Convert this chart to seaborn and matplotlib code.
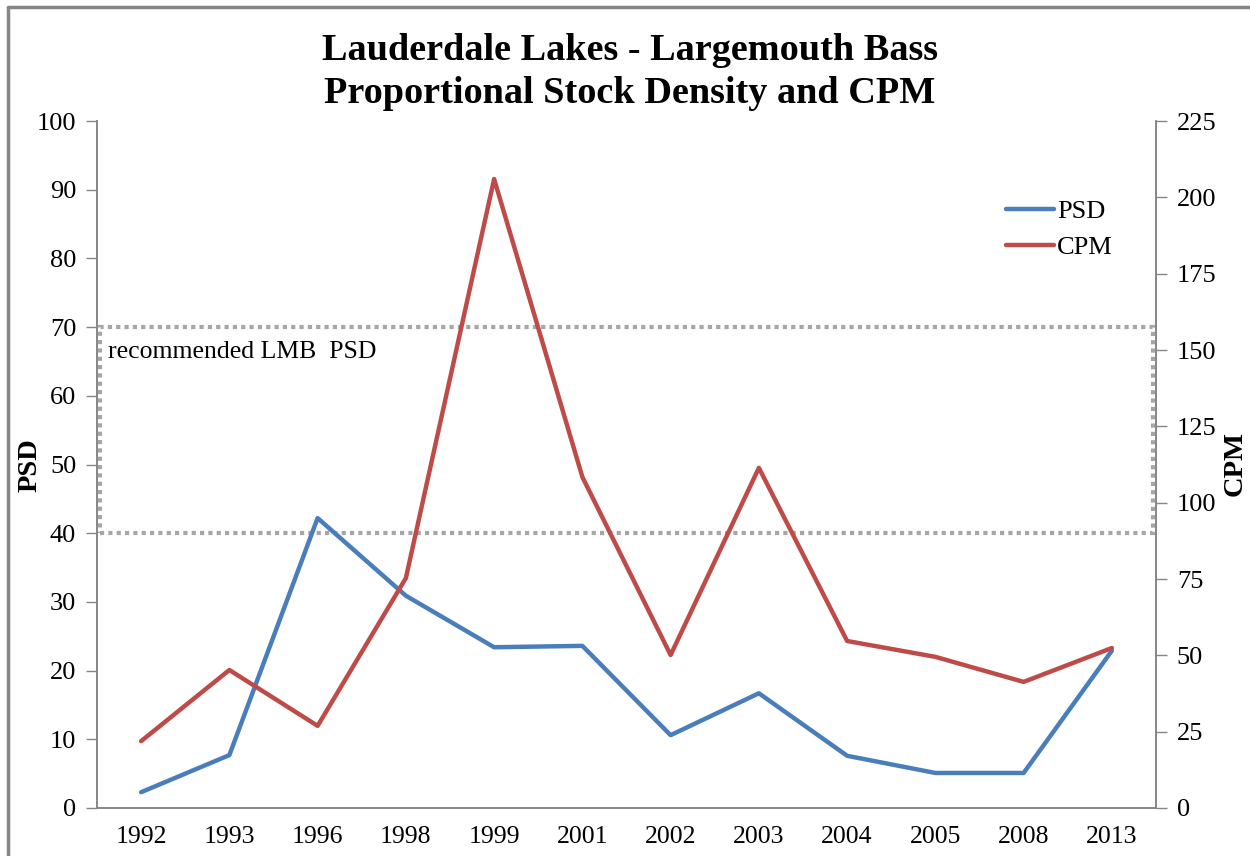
import numpy as np
import matplotlib
matplotlib.use('Agg')
import matplotlib.pyplot as plt
import matplotlib.transforms as mtransforms
from matplotlib.lines import Line2D
from matplotlib.patches import Rectangle
import seaborn as sns

# Chart data
years = ['1992', '1993', '1996', '1998', '1999', '2001',
         '2002', '2003', '2004', '2005', '2008', '2013']
psd = [2.3, 7.7, 42.2, 30.9, 23.4, 23.6, 10.6, 16.7, 7.6, 5.1, 5.1, 22.9]
cpm = [21.9, 45.2, 26.9, 75.3, 206.0, 108.4, 50.1, 111.4, 54.7, 49.5, 41.3, 52.4]
recommended_psd = [40, 70]

blue = '#4A7EBB'
red = '#BE4B48'
grey = '#868686'

sns.set_style('white')
plt.rcParams['font.family'] = ['Liberation Serif', 'DejaVu Serif']
plt.rcParams['text.color'] = 'black'

fig = plt.figure(figsize=(12.5, 8.56), dpi=100)
ax = fig.add_axes([97 / 1250, 48 / 856, 1059 / 1250, 687 / 856])
ax2 = ax.twinx()

pos = np.arange(len(years))
sns.lineplot(x=pos, y=psd, ax=ax, color=blue, linewidth=3.2, label='PSD', legend=False)
sns.lineplot(x=pos, y=cpm, ax=ax2, color=red, linewidth=3.2, label='CPM', legend=False)

# recommended PSD band, dotted outline across the full plot width
trans = mtransforms.blended_transform_factory(ax.transAxes, ax.transData)
band = Rectangle((0.003, recommended_psd[0]), 0.994, recommended_psd[1] - recommended_psd[0],
                 transform=trans, fill=False, edgecolor='#A6A6A6', linewidth=3,
                 linestyle=(0, (1, 1)), zorder=1)
ax.add_patch(band)
ax.text(0.01, recommended_psd[1] - 3.6, 'recommended LMB  PSD', transform=trans,
        fontsize=18.5, ha='left', va='center')

ax.set_xlim(-0.5, len(years) - 0.5)
ax.set_ylim(0, 100)
ax2.set_ylim(0, 225)
ax.set_yticks(np.arange(0, 101, 10))
ax2.set_yticks(np.arange(0, 226, 25))
ax.set_xticks(pos)
ax.set_xticklabels(years)
ax.set_xticks(np.arange(-0.5, len(years), 1), minor=True)
ax.tick_params(axis='x', which='major', length=0, pad=13, labelsize=18.5, labelcolor='black')
ax.tick_params(axis='x', which='minor', length=8, width=1, color=grey, direction='out')
ax.tick_params(axis='y', length=8, width=1, color=grey, direction='out', labelsize=19,
               pad=7, labelcolor='black')
ax2.tick_params(axis='y', length=8, width=1, color=grey, direction='out', labelsize=19,
                pad=7, labelcolor='black')

for a in (ax, ax2):
    a.spines['top'].set_visible(False)
    for side in ('left', 'right', 'bottom'):
        a.spines[side].set_color(grey)
        a.spines[side].set_linewidth(1.2)

fig.text(30 / 1250, 1 - 465 / 856, 'PSD', rotation=90, ha='center', va='center',
         fontsize=20.5, fontweight='bold')
fig.text(1235 / 1250, 1 - 463 / 856, 'CPM', rotation=90, ha='center', va='center',
         fontsize=20.5, fontweight='bold')

handles = [Line2D([], [], color=blue, linewidth=3.2), Line2D([], [], color=red, linewidth=3.2)]
ax2.legend(handles, ['PSD', 'CPM'], loc='upper left', bbox_to_anchor=(0.858, 0.886),
           frameon=False, fontsize=19, handlelength=1.85, handletextpad=0.1,
           labelspacing=0.5, borderaxespad=0, borderpad=0)

fig.text(0.504, 1 - 33 / 856, 'Lauderdale Lakes - Largemouth Bass\nProportional Stock Density and CPM',
         ha='center', va='top', fontsize=27.5, fontweight='bold', linespacing=1.3)

# chart-area border (visible on the left and top edges)
fig.add_artist(Line2D([0.006, 0.006], [0.0, 0.992], transform=fig.transFigure, color=grey, linewidth=2.5))
fig.add_artist(Line2D([0.006, 1.0], [0.992, 0.992], transform=fig.transFigure, color=grey, linewidth=2.5))

fig.savefig('out.png', dpi=100)
plt.close(fig)
